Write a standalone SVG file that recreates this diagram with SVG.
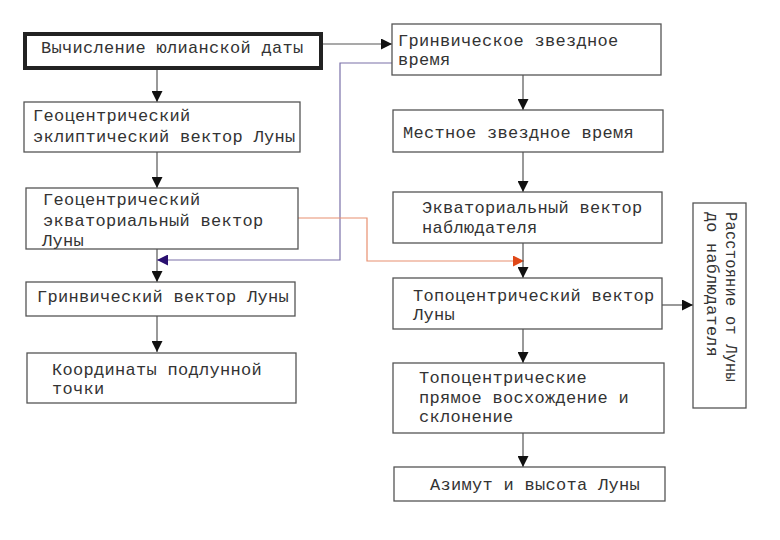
<svg xmlns="http://www.w3.org/2000/svg" width="780" height="540" viewBox="0 0 780 540">
<style>
.box{fill:#fff;stroke:#555;stroke-width:1.3}
.t{font-family:"Liberation Mono","DejaVu Sans Mono",monospace;font-size:17px;letter-spacing:0.3px;fill:#333}
.c{fill:none;stroke:#555;stroke-width:1.2}
</style>
<defs>
<marker id="ah" markerUnits="userSpaceOnUse" markerWidth="11" markerHeight="11" refX="10" refY="5" orient="auto" viewBox="0 0 10 10"><path d="M0,0 L10,5 L0,10 z" fill="#111"/></marker>
<marker id="ap" markerUnits="userSpaceOnUse" markerWidth="11" markerHeight="11" refX="10" refY="5" orient="auto" viewBox="0 0 10 10"><path d="M0,0 L10,5 L0,10 z" fill="#2a1070"/></marker>
<marker id="ao" markerUnits="userSpaceOnUse" markerWidth="11" markerHeight="11" refX="10" refY="5" orient="auto" viewBox="0 0 10 10"><path d="M0,0 L10,5 L0,10 z" fill="#e04818"/></marker>
</defs>
<rect width="780" height="540" fill="#fff"/>
<g id="connectors">
<line class="c" x1="322" y1="44" x2="392" y2="44" marker-end="url(#ah)"/>
<line class="c" x1="157" y1="70" x2="157" y2="102" marker-end="url(#ah)"/>
<line class="c" x1="157" y1="152" x2="157" y2="188" marker-end="url(#ah)"/>
<line class="c" x1="157" y1="249" x2="157" y2="282" marker-end="url(#ah)"/>
<line class="c" x1="157" y1="316" x2="157" y2="352" marker-end="url(#ah)"/>
<polyline points="392,63 340,63 340,260 157,260" fill="none" stroke="#7a70a8" stroke-width="1.2" marker-end="url(#ap)"/>
<polyline points="297,218 367,218 367,261 524,261" fill="none" stroke="#e89070" stroke-width="1.2" marker-end="url(#ao)"/>
<line class="c" x1="523" y1="75" x2="523" y2="110" marker-end="url(#ah)"/>
<line class="c" x1="523" y1="152" x2="523" y2="192" marker-end="url(#ah)"/>
<line class="c" x1="523" y1="243" x2="523" y2="278" marker-end="url(#ah)"/>
<line class="c" x1="523" y1="329" x2="523" y2="363" marker-end="url(#ah)"/>
<line class="c" x1="523" y1="433" x2="523" y2="467" marker-end="url(#ah)"/>
<line class="c" x1="662" y1="305" x2="693" y2="305" marker-end="url(#ah)"/>
</g>
<g id="n1"><rect x="25" y="34" width="296" height="34" fill="#fff" stroke="#222" stroke-width="4"/><text class="t" x="41" y="53">Вычисление юлианской даты</text></g>
<g id="n2"><rect class="box" x="24" y="102" width="276" height="50"/><text class="t" x="33" y="121">Геоцентрический</text><text class="t" x="33" y="142">эклиптический вектор Луны</text></g>
<g id="n3"><rect class="box" x="26" y="188" width="272" height="61"/><text class="t" x="43" y="205">Геоцентрический</text><text class="t" x="43" y="226">экваториальный вектор</text><text class="t" x="42" y="246">Луны</text></g>
<g id="n4"><rect class="box" x="26" y="282" width="269" height="34"/><text class="t" x="37" y="302">Гринвический вектор Луны</text></g>
<g id="n5"><rect class="box" x="27" y="353" width="269" height="50"/><text class="t" x="52" y="375">Координаты подлунной</text><text class="t" x="52" y="394">точки</text></g>
<g id="n6"><rect class="box" x="392" y="24" width="269" height="51"/><text class="t" x="398" y="46">Гринвическое звездное</text><text class="t" x="398" y="65">время</text></g>
<g id="n7"><rect class="box" x="393" y="110" width="270" height="42"/><text class="t" x="403" y="138">Местное звездное время</text></g>
<g id="n8"><rect class="box" x="393" y="192" width="269" height="51"/><text class="t" x="422" y="213">Экваториальный вектор</text><text class="t" x="422" y="233">наблюдателя</text></g>
<g id="n9"><rect class="box" x="393" y="278" width="269" height="51"/><text class="t" x="413" y="301">Топоцентрический вектор</text><text class="t" x="413" y="320">Луны</text></g>
<g id="n10"><rect class="box" x="393" y="363" width="271" height="70"/><text class="t" x="419" y="383">Топоцентрические</text><text class="t" x="419" y="403">прямое восхождение и</text><text class="t" x="419" y="422">склонение</text></g>
<g id="n11"><rect class="box" x="394" y="467" width="271" height="34"/><text class="t" x="430" y="490">Азимут и высота Луны</text></g>
<g id="n12"><rect class="box" x="693" y="203" width="53" height="205"/><text class="t" transform="translate(726,212) rotate(90)" x="0" y="0" textLength="170" lengthAdjust="spacingAndGlyphs">Расстояние от Луны</text><text class="t" transform="translate(707,212) rotate(90)" x="0" y="0" textLength="145" lengthAdjust="spacingAndGlyphs">до наблюдателя</text></g>
</svg>
